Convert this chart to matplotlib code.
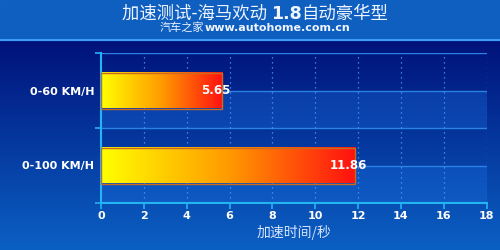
import numpy as np
import matplotlib.pyplot as plt
from matplotlib.colors import LinearSegmentedColormap

categories = ['0-100 KM/H', '0-60 KM/H']
times = [11.86, 5.65]
x_ticks = [0, 2, 4, 6, 8, 10, 12, 14, 16, 18]

title_parts = [('加速测试-海马欢动 ', 'normal'), ('1.8', 'bold'), ('自动豪华型', 'normal')]
sub_parts = [('汽车之家', 'normal'), ('www.autohome.com.cn', 'bold')]
xlabel = '加速时间/秒'

fig = plt.figure(figsize=(5, 2.5), dpi=100)

# background: title band + vertical gradient
bg = fig.add_axes([0, 0, 1, 1], zorder=-5)
bg_cmap = LinearSegmentedColormap.from_list('bg', ['#0b60c4', '#00127a'])
grad = np.linspace(0, 1, 256).reshape(-1, 1)
bg.imshow(grad, cmap=bg_cmap, extent=[0, 1, 0, 0.84], aspect='auto', origin='lower')
bg.axhspan(0.84, 1, color='#0f5fc0')
bg.axhline(0.84, color='#4aa8ff', lw=1.2)
bg.set_xlim(0, 1)
bg.set_ylim(0, 1)
bg.axis('off')

ax = fig.add_axes([0.202, 0.188, 0.771, 0.6])
ax.patch.set_alpha(0)
ax.set_xlim(0, 18)
ax.set_ylim(-0.5, 1.5)

# lighter lower half of each category band
for y in range(len(categories)):
    ax.axhspan(y - 0.5, y, color='#1a6ee0', alpha=0.35, lw=0, zorder=0)
for y in [0, 0.5, 1, 1.5]:
    ax.axhline(y, color='#2a82e4', lw=1, zorder=1)

ax.set_xticks(x_ticks)
ax.grid(axis='x', linestyle=(0, (1, 3)), color='#4a9ef0', lw=0.9, zorder=1)

bar_cmap = LinearSegmentedColormap.from_list('bar', ['#ffff00', '#ff9a00', '#ff1010'])
bars = ax.barh(range(len(categories)), times, height=0.48, facecolor='none',
               edgecolor='#c86a20', lw=1, zorder=3)
hgrad = np.linspace(0, 1, 256).reshape(1, -1)
for b, v in zip(bars, times):
    x0, y0, w, h = b.get_x(), b.get_y(), b.get_width(), b.get_height()
    ax.imshow(hgrad, cmap=bar_cmap, extent=[x0, x0 + w, y0, y0 + h],
              aspect='auto', zorder=2)
    ax.text(v - 0.3, y0 + h / 2, f'{v:.2f}', ha='center', va='center',
            color='white', fontsize=8.5, fontweight='bold', zorder=4)
ax.set_xlim(0, 18)
ax.set_ylim(-0.5, 1.5)

ax.set_yticks([-0.5, 0.5, 1.5])
ax.set_yticklabels([])
ax.set_yticks(range(len(categories)), minor=True)
ax.set_yticklabels(categories, minor=True)
ax.tick_params(axis='y', which='major', length=4, color='#22b4f4', width=1.2)
ax.tick_params(axis='y', which='minor', length=0, pad=5, labelcolor='white',
               labelsize=8)
ax.tick_params(axis='x', length=4, color='#22b4f4', width=1.2, pad=2,
               labelcolor='white', labelsize=8)
for lab in ax.get_xticklabels() + ax.get_yticklabels(minor=True):
    lab.set_fontweight('bold')
for s in ['top', 'right']:
    ax.spines[s].set_visible(False)
for s in ['left', 'bottom']:
    ax.spines[s].set_color('#22b4f4')
    ax.spines[s].set_linewidth(1.5)

ax.set_xlabel(xlabel, color='#d8e4ff', fontsize=10, labelpad=3,
              family=['Noto Sans CJK SC', 'DejaVu Sans'])

# centred title lines made of mixed-weight pieces
renderer = fig.canvas.get_renderer()


def place_parts(parts, y, size, cx=0.51):
    texts = []
    for s, w in parts:
        t = fig.text(0, y, s, fontsize=size, fontweight=w, color='#eef4ff',
                     va='center', ha='left',
                     family=['Noto Sans CJK SC', 'DejaVu Sans'] if w == 'normal'
                     else ['DejaVu Sans'])
        texts.append(t)
    widths = [t.get_window_extent(renderer).width / fig.bbox.width for t in texts]
    x = cx - sum(widths) / 2
    for t, wd in zip(texts, widths):
        t.set_x(x)
        x += wd


place_parts(title_parts, 1 - 14 / 250, 12.5)
place_parts(sub_parts, 1 - 28 / 250, 8)

fig.savefig('out.png', dpi=100)
